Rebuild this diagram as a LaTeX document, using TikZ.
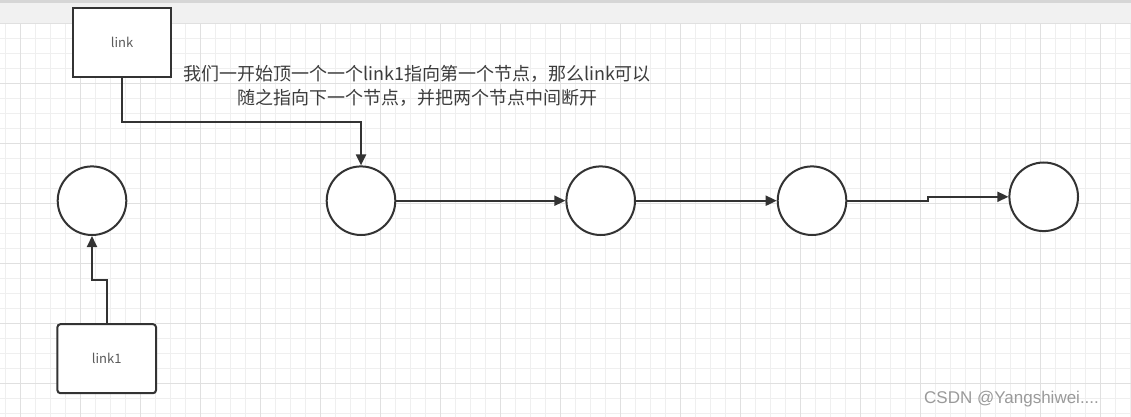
\documentclass[tikz,border=0pt]{standalone}
\usepackage{fontspec}
\newfontfamily\cjk{Noto Sans CJK SC}
\newfontfamily\wmfont{Liberation Sans}
\usetikzlibrary{arrows.meta}
\definecolor{minorgrid}{HTML}{EFEFEF}
\definecolor{majorgrid}{HTML}{E0E0E0}
\definecolor{band}{HTML}{F1F1F1}
\definecolor{topbar}{HTML}{D6D6D6}
\definecolor{ink}{HTML}{333333}
\definecolor{labelgray}{HTML}{5A5A5A}
\definecolor{textgray}{HTML}{3C3C3C}
\definecolor{wmgray}{HTML}{9A9A9A}
\begin{document}
\begin{tikzpicture}[x=1pt,y=-1pt,
  box/.style={draw=ink, line width=2pt, fill=white, minimum width=98.6pt, minimum height=69pt, inner sep=0pt, font=\cjk\fontsize{13}{13}\selectfont, text=labelgray},
  ring/.style={circle, draw=ink, line width=2pt, fill=white, minimum size=68.6pt, inner sep=0pt},
  arr/.style={draw=ink, line width=2pt, -{Triangle[width=10pt,length=11pt]}},
  minorline/.style={draw=minorgrid, line width=1pt},
  majorline/.style={draw=majorgrid, line width=1pt}]
\useasboundingbox (0,0) rectangle (1131,417);
\fill[white] (0,0) rectangle (1131,417);
% grid
\foreach \k in {0,...,75} {
  \pgfmathsetmacro\xx{5.7+15*\k}
  \draw[minorline] (\xx,23) -- (\xx,417);
}
\foreach \k in {0,...,26} {
  \pgfmathsetmacro\yy{23.3+15*\k}
  \draw[minorline] (0,\yy) -- (1131,\yy);
}
\foreach \k in {0,...,18} {
  \pgfmathsetmacro\xx{20.7+60*\k}
  \draw[majorline] (\xx,23) -- (\xx,417);
}
\foreach \k in {0,...,6} {
  \pgfmathsetmacro\yy{23.3+60*\k}
  \draw[majorline] (0,\yy) -- (1131,\yy);
}
% top band
\fill[band] (0,0) rectangle (1131,23);
\fill[topbar] (0,0) rectangle (1131,3);

% nodes
\node[box] (lk) at (122,42.8) {link};
\node[box, rounded corners=3pt] (l1) at (106.7,358.7) {link1};
\node[ring] (c1) at (92,200.7) {};
\node[ring] (c2) at (361,200.7) {};
\node[ring] (c3) at (600.7,200.7) {};
\node[ring] (c4) at (812,200.7) {};
\node[ring] (c5) at (1043.7,196.8) {};

\node[align=center, inner sep=0pt, text=textgray, font=\cjk\fontsize{18}{23.7}\selectfont] (note) at (417,86)
  {我们一开始顶一个一个link1指向第一个节点，那么link可以\\随之指向下一个节点，并把两个节点中间断开};

\node[anchor=west, inner sep=0pt, text=wmgray, font=\wmfont\fontsize{17}{17}\selectfont] (wm) at (924,399) {CSDN @Yangshiwei....};

% connectors
\draw[arr] (l1.north) -- ++(0,-43) -| (c1.south);
\draw[arr] (lk.south) -- ++(0,43.4) -| (c2.north);
\draw[arr] (c2.east) -- (c3.west);
\draw[arr] (c3.east) -- (c4.west);
\draw[arr] (c4.east) -- ++(81,0) |- (c5.west);
\end{tikzpicture}
\end{document}
